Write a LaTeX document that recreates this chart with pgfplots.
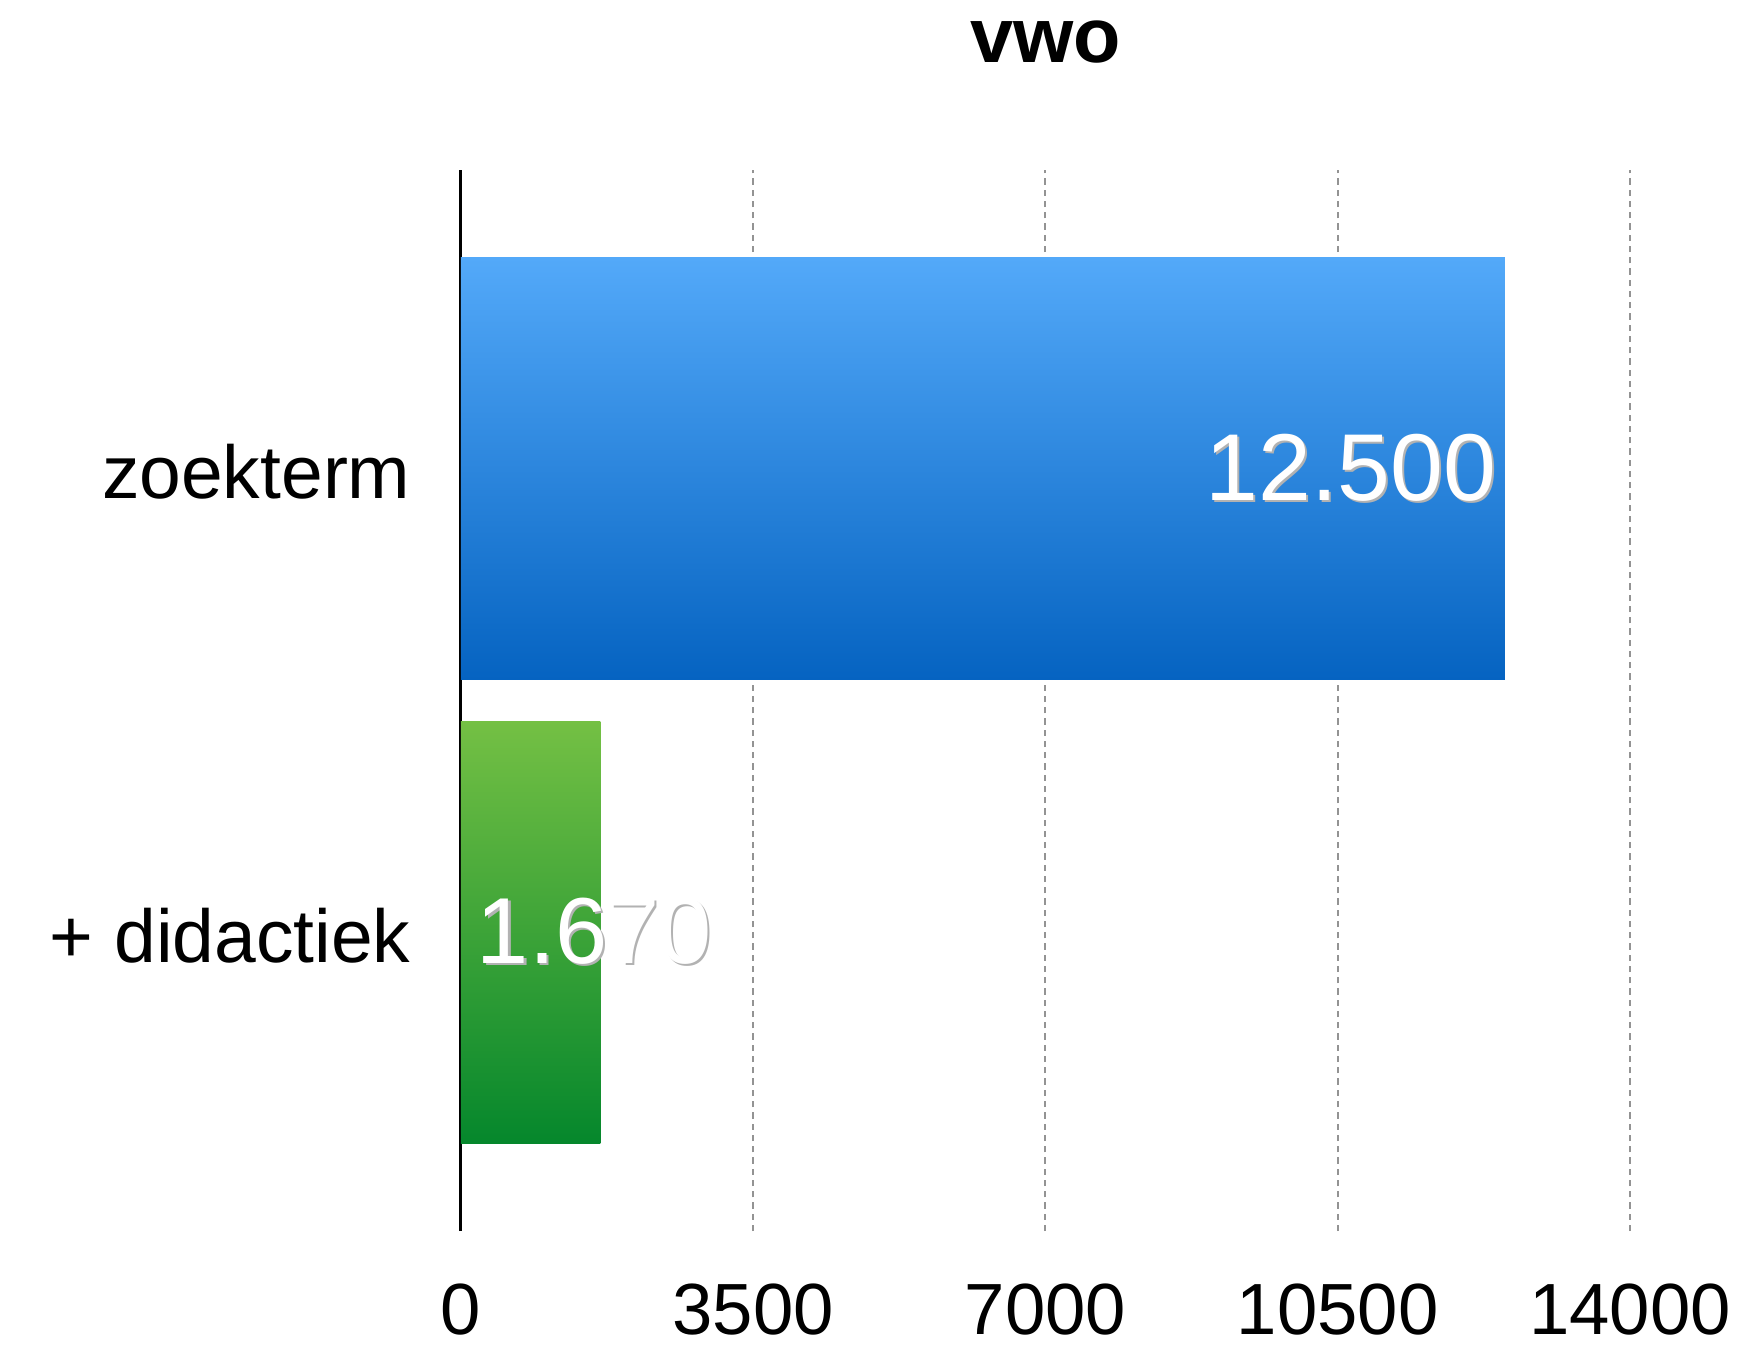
\documentclass[border=0pt]{standalone}
\usepackage{pgfplots}
\pgfplotsset{compat=1.18}
\usepackage{fontspec}
\setmainfont{Liberation Sans}

\definecolor{bluetop}{HTML}{53A9F9}
\definecolor{bluebot}{HTML}{0563C1}
\definecolor{greentop}{HTML}{74C044}
\definecolor{greenbot}{HTML}{05872C}

% white value label with a soft dark drop shadow
\newcommand{\shtext}[1]{\makebox[0pt][l]{\kern0.9pt\raisebox{-0.9pt}{\textcolor{black!30}{#1}}}\textcolor{white}{#1}}

\begin{document}
\begin{tikzpicture}
\begin{axis}[
  scale only axis,
  width=467.6pt, height=424.4pt,
  xmin=0, xmax=14000,
  ymin=-0.645, ymax=1.645,
  axis line style={draw=none},
  tick style={draw=none},
  major tick length=0pt,
  xtick={3500,7000,10500,14000},
  xticklabels={3500,7000,10500,14000},
  extra x ticks={0},
  extra x tick labels={0},
  extra x tick style={major grid style={solid, black, line width=1.2pt}},
  xmajorgrids,
  major grid style={gray!85, line width=0.8pt, dash pattern=on 2.5pt off 2pt},
  ytick={0,1},
  yticklabels={+ didactiek, zoekterm},
  xticklabel style={anchor=center, inner sep=0pt, yshift=-31.6pt, font=\fontsize{29}{29}\selectfont},
  yticklabel style={anchor=east, inner sep=0pt, xshift=-20pt, yshift=-1.3pt, font=\fontsize{30}{30}\selectfont},
  title={vwo},
  title style={at={(0.5,1)}, anchor=base, inner sep=0pt, yshift=36.8pt, font=\bfseries\fontsize{31}{31}\selectfont},
  point meta=explicit symbolic,
]
\addplot[xbar, bar shift=0pt, bar width=168.8pt, draw=none, top color=bluetop, bottom color=bluebot,
  nodes near coords={\shtext{\pgfplotspointmeta}},
  nodes near coords align={horizontal},
  every node near coord/.append style={anchor=east, inner sep=0pt, xshift=-3.2pt, font=\fontsize{38}{38}\selectfont}]
  coordinates {(12500,1) [12.500]};
\addplot[xbar, bar shift=0pt, bar width=168.8pt, draw=none, top color=greentop, bottom color=greenbot,
  nodes near coords={\shtext{\pgfplotspointmeta}},
  nodes near coords align={horizontal},
  every node near coord/.append style={anchor=west, inner sep=0pt, xshift=-49.6pt, font=\fontsize{37.5}{37.5}\selectfont}]
  coordinates {(1670,0) [1.670]};
\end{axis}
\pgfresetboundingbox
\path (-184.4pt,-46pt) rectangle (512.4pt,492.4pt);
\end{tikzpicture}
\end{document}
